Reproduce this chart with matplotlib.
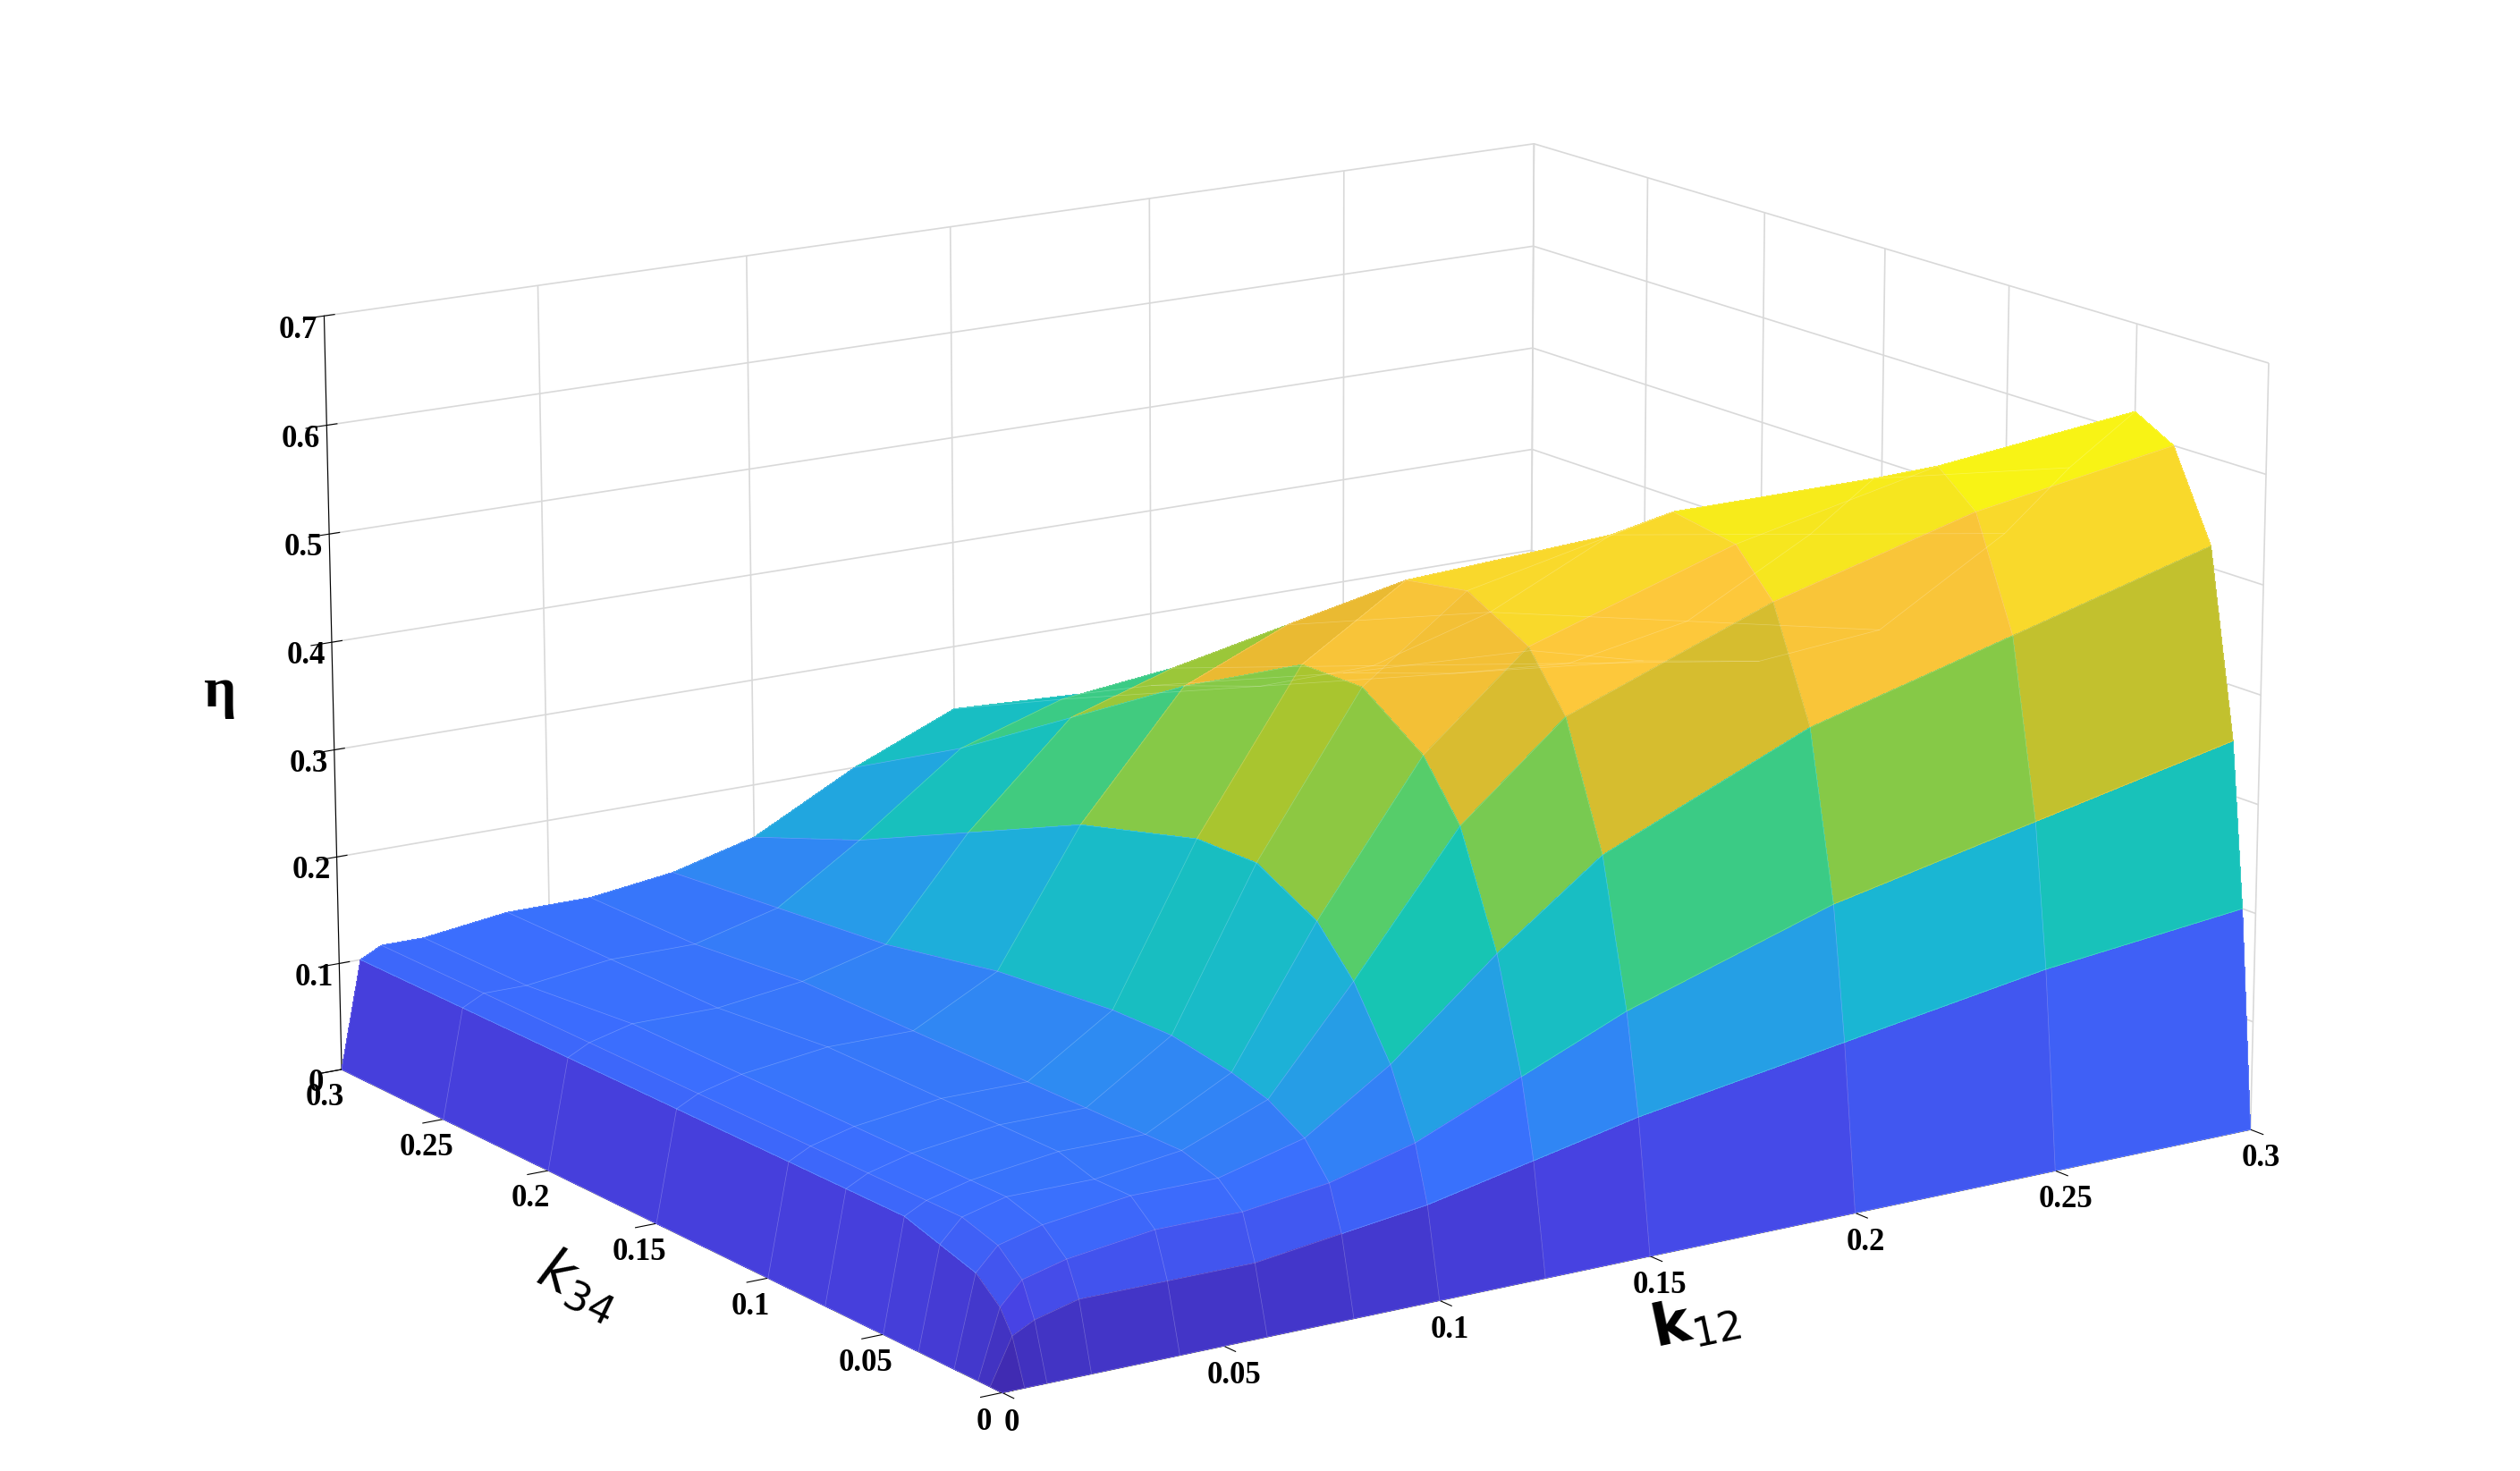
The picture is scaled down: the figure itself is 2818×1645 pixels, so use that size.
import numpy as np
import matplotlib
matplotlib.use("Agg")
import matplotlib.pyplot as plt
from matplotlib.colors import LinearSegmentedColormap, Normalize

plt.rcParams['font.family'] = ['Liberation Serif', 'DejaVu Serif']

k12 = [0, 0.005, 0.01, 0.02, 0.04, 0.06, 0.08, 0.1, 0.125, 0.15, 0.2, 0.25, 0.3]
k34 = [0, 0.005, 0.01, 0.02, 0.035, 0.05, 0.075, 0.1, 0.15, 0.2, 0.25, 0.3]
# rows: k34, columns: k12
eta = [
    [0.00, 0.00, 0.00, 0.00, 0.00, 0.00, 0.00, 0.00, 0.00, 0.00, 0.00, 0.00, 0.00],
    [0.00, 0.04, 0.05, 0.06, 0.06, 0.06, 0.07, 0.08, 0.10, 0.12, 0.15, 0.18, 0.20],
    [0.00, 0.06, 0.08, 0.09, 0.10, 0.10, 0.11, 0.13, 0.17, 0.21, 0.27, 0.31, 0.35],
    [0.00, 0.08, 0.10, 0.11, 0.12, 0.12, 0.14, 0.19, 0.27, 0.34, 0.42, 0.47, 0.52],
    [0.00, 0.09, 0.11, 0.12, 0.12, 0.13, 0.16, 0.25, 0.37, 0.45, 0.52, 0.57, 0.60],
    [0.00, 0.10, 0.11, 0.12, 0.13, 0.13, 0.17, 0.29, 0.42, 0.50, 0.56, 0.60, 0.62],
    [0.00, 0.10, 0.11, 0.12, 0.13, 0.13, 0.18, 0.32, 0.46, 0.53, 0.57, 0.57, 0.55],
    [0.00, 0.10, 0.11, 0.12, 0.13, 0.13, 0.18, 0.32, 0.46, 0.52, 0.53, 0.50, 0.47],
    [0.00, 0.10, 0.11, 0.12, 0.13, 0.13, 0.17, 0.29, 0.40, 0.44, 0.42, 0.38, 0.34],
    [0.00, 0.10, 0.11, 0.12, 0.12, 0.13, 0.15, 0.24, 0.33, 0.36, 0.33, 0.30, 0.27],
    [0.00, 0.10, 0.11, 0.11, 0.12, 0.12, 0.14, 0.19, 0.26, 0.29, 0.27, 0.25, 0.23],
    [0.00, 0.10, 0.11, 0.11, 0.12, 0.12, 0.13, 0.15, 0.20, 0.24, 0.23, 0.21, 0.20],
]

parula = LinearSegmentedColormap.from_list("parula", [
    "#3e26a8", "#4743e4", "#3b6dfe", "#2a94ee", "#1ab6d3", "#16c9aa",
    "#5ccd64", "#aec52c", "#e9b931", "#fdc83b", "#f6e61f", "#f9fb0e"])

X, Y = np.meshgrid(k12, k34)
Z = np.array(eta)
norm = Normalize(vmin=0, vmax=0.62)

fig = plt.figure(figsize=(28.18, 16.45), dpi=100)
ax = fig.add_axes([-0.13, -0.2, 1.26, 1.38], projection='3d')
ax.plot_surface(X, Y, Z, cmap=parula, norm=norm, shade=False, linewidth=0,
                rstride=1, cstride=1, antialiased=False)
ax.plot_wireframe(X, Y, Z, color='white', linewidth=0.5, alpha=0.25)
ax.set_xlim(0, 0.3); ax.set_ylim(0, 0.3); ax.set_zlim(0, 0.7)
ax.view_init(elev=15, azim=-124)
ax.set_box_aspect((1.6, 1.35, 0.85))
ticks = [0, 0.05, 0.1, 0.15, 0.2, 0.25, 0.3]
labs = ['0', '0.05', '0.1', '0.15', '0.2', '0.25', '0.3']
ax.set_xticks(ticks); ax.set_xticklabels(labs)
ax.set_yticks(ticks); ax.set_yticklabels(labs)
ax.set_zticks([0, 0.1, 0.2, 0.3, 0.4, 0.5, 0.6, 0.7])
ax.set_zticklabels(['0', '0.1', '0.2', '0.3', '0.4', '0.5', '0.6', '0.7'])
for a in (ax.xaxis, ax.yaxis, ax.zaxis):
    a.set_pane_color((1, 1, 1, 0))
    a._axinfo['grid']['color'] = (0.85, 0.85, 0.85, 1)
    a._axinfo['grid']['linewidth'] = 1.2
ax.tick_params(labelsize=25)
for t in ax.get_xticklabels() + ax.get_yticklabels() + ax.get_zticklabels():
    t.set_fontweight('bold')
ax.set_xlabel(r'$\mathbf{k}_{12}$', fontsize=46, labelpad=30)
ax.set_ylabel(r'$\mathbf{\it{k}}_{34}$', fontsize=46, labelpad=30)
ax.set_zlabel('η', fontsize=46, fontweight='bold', labelpad=30)
fig.savefig('out.png', dpi=100)
